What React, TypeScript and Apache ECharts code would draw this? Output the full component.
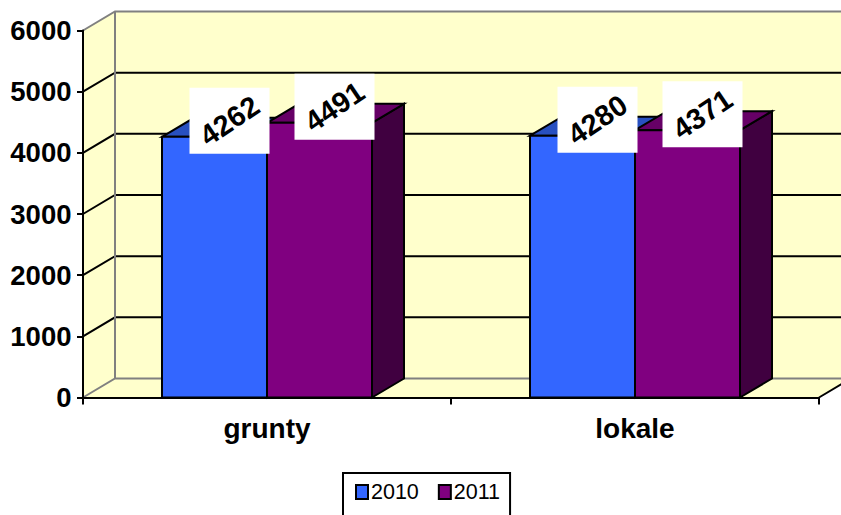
import React, { useEffect, useRef } from "react";
import * as echarts from "echarts";

const categories = ["grunty", "lokale"];
const yTicks = [0, 1000, 2000, 3000, 4000, 5000, 6000];
const values2010 = [4262, 4280];
const values2011 = [4491, 4371];

const DX = 32;
const DY = 19;
const FONT = '"Liberation Sans", Arial, sans-serif';
const BAR_FRACTION = 105 / 368;
const WALL = "#FFFFCC";
const GREY = "#808080";

function barRender(offsetSign: number, front: string, top: string, side: string) {
  return (params: any, api: any) => {
    const idx = api.value(0);
    const [cx, yTop] = api.coord([idx, api.value(1)]);
    const [, yBase] = api.coord([idx, 0]);
    const w = api.size([1, 0])[0] * BAR_FRACTION;
    const x0 = offsetSign < 0 ? cx - w : cx;
    const x1 = x0 + w;
    const line = { stroke: "#000", lineWidth: 2, lineJoin: "miter" };
    return {
      type: "group",
      children: [
        {
          type: "polygon",
          shape: { points: [[x1, yBase], [x1 + DX, yBase - DY], [x1 + DX, yTop - DY], [x1, yTop]] },
          style: { fill: side, ...line },
        },
        {
          type: "polygon",
          shape: { points: [[x0, yTop], [x0 + DX, yTop - DY], [x1 + DX, yTop - DY], [x1, yTop]] },
          style: { fill: top, ...line },
        },
        {
          type: "rect",
          shape: { x: x0, y: yTop, width: w, height: yBase - yTop },
          style: { fill: front, ...line },
        },
      ],
    };
  };
}

function labelRender(offsetSign: number) {
  return (params: any, api: any) => {
    const idx = api.value(0);
    const v = api.value(1);
    const [cx, yTop] = api.coord([idx, v]);
    const w = api.size([1, 0])[0] * BAR_FRACTION;
    const mid = cx + (offsetSign * w) / 2 + 15;
    const cy = yTop - 16;
    return {
      type: "group",
      children: [
        { type: "rect", shape: { x: mid - 40, y: cy - 33, width: 80, height: 66 }, style: { fill: "#fff" } },
        {
          type: "text",
          x: mid,
          y: cy,
          rotation: (34 * Math.PI) / 180,
          style: {
            text: String(v),
            align: "center",
            verticalAlign: "middle",
            fill: "#000",
            font: `bold 29px ${FONT}`,
          },
        },
      ],
    };
  };
}

function wallRender(params: any) {
  const { x, y, width, height } = params.coordSys;
  const b = y + height;
  const r = x + width;
  return {
    type: "group",
    children: [
      { type: "rect", shape: { x: x + DX, y: y - DY, width, height }, style: { fill: WALL } },
      {
        type: "polygon",
        shape: { points: [[x, b], [x + DX, b - DY], [x + DX, y - DY], [x, y]] },
        style: { fill: WALL },
      },
      {
        type: "polygon",
        shape: { points: [[x, b], [r, b], [r + DX, b - DY], [x + DX, b - DY]] },
        style: { fill: WALL },
      },
    ],
  };
}

function gridRender(params: any, api: any) {
  const { x, width } = params.coordSys;
  const [, yv] = api.coord([0, api.value(0)]);
  const r = x + width;
  const color = api.value(0) === 0 || api.value(0) === 6000 ? GREY : "#000";
  return {
    type: "group",
    children: [
      {
        type: "polyline",
        shape: { points: [[x, yv], [x + DX, yv - DY], [r + DX, yv - DY]] },
        style: { stroke: color, lineWidth: 2, fill: "none" },
      },
    ],
  };
}

function frameRender(params: any) {
  const { x, y, width, height } = params.coordSys;
  const b = y + height;
  const r = x + width;
  return {
    type: "group",
    children: [
      {
        type: "line",
        shape: { x1: x + DX, y1: y - DY, x2: x + DX, y2: b - DY },
        style: { stroke: GREY, lineWidth: 2 },
      },
      {
        type: "line",
        shape: { x1: r, y1: b, x2: r + DX, y2: b - DY },
        style: { stroke: "#000", lineWidth: 2 },
      },
    ],
  };
}

export default function App() {
  const ref = useRef<HTMLDivElement>(null);
  useEffect(() => {
    document.body.style.margin = "0";
    const chart = echarts.init(ref.current!, undefined, { renderer: "svg" });
    const pairs = (arr: number[]) => arr.map((v, i) => [i, v]);
    chart.setOption({
      animation: false,
      backgroundColor: "#fff",
      textStyle: { fontFamily: FONT },
      grid: { left: 83, right: 22, top: 30.5, bottom: 117.5 },
      legend: {
        data: [
          { name: "2010", itemStyle: { color: "#3366FF", borderColor: "#000", borderWidth: 2 } },
          { name: "2011", itemStyle: { color: "#800080", borderColor: "#000", borderWidth: 2 } },
        ],
        left: 343,
        top: 473,
        orient: "horizontal",
        icon: "rect",
        itemWidth: 12,
        itemHeight: 14,
        itemGap: 19,
        padding: [8, 10, 20, 12],
        borderColor: "#000",
        borderWidth: 2,
        textStyle: { fontSize: 21.5, color: "#000", fontFamily: FONT, padding: [0, 0, 0, -2] },
      },
      xAxis: {
        type: "category",
        data: categories,
        z: 10,
        axisLine: { lineStyle: { color: "#000", width: 2 } },
        axisTick: { show: true, length: 7, lineStyle: { color: "#000", width: 2 } },
        axisLabel: { color: "#000", fontWeight: "bold", fontSize: 28, margin: 17, fontFamily: FONT },
      },
      yAxis: {
        type: "value",
        min: 0,
        max: 6000,
        interval: 1000,
        z: 10,
        axisLine: { show: true, lineStyle: { color: "#000", width: 2 } },
        axisTick: { show: true, length: 6, lineStyle: { color: "#000", width: 2 } },
        axisLabel: { color: "#000", fontWeight: "bold", fontSize: 27.5, margin: 11.5, fontFamily: FONT, formatter: (v: number) => String(v) },
        splitLine: { show: false },
      },
      series: [
        { type: "custom", name: "wall", z: 1, data: [[0, 0]], renderItem: wallRender, silent: true },
        { type: "custom", name: "gridlines", z: 1, data: yTicks.map((t) => [t]), encode: { y: 0 }, renderItem: gridRender, silent: true },
        { type: "custom", name: "frame", z: 1, data: [[0, 0]], renderItem: frameRender, silent: true },
        { type: "custom", name: "2010", z: 2, data: pairs(values2010), encode: { x: 0, y: 1 }, itemStyle: { color: "#3366FF" }, renderItem: barRender(-1, "#3366FF", "#2850C0", "#1A3380") },
        { type: "custom", name: "2011", z: 2, data: pairs(values2011), encode: { x: 0, y: 1 }, itemStyle: { color: "#800080" }, renderItem: barRender(1, "#800080", "#660066", "#400040") },
        { type: "custom", name: "labels2010", z: 3, data: pairs(values2010), encode: { x: 0, y: 1 }, renderItem: labelRender(-1) },
        { type: "custom", name: "labels2011", z: 3, data: pairs(values2011), encode: { x: 0, y: 1 }, renderItem: labelRender(1) },
      ],
    });
    return () => chart.dispose();
  }, []);
  return <div ref={ref} style={{ width: 841, height: 515 }} />;
}
